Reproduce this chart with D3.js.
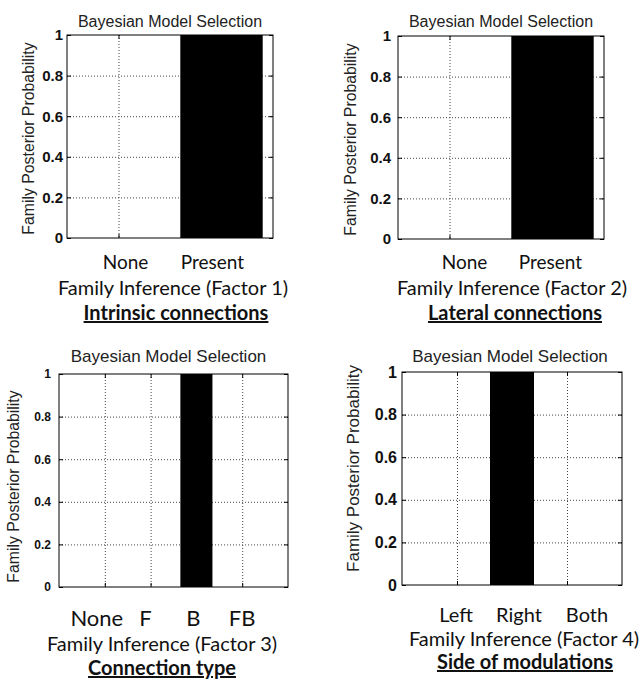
<!DOCTYPE html>
<html>
<head>
<meta charset="utf-8">
<script src="https://cdn.jsdelivr.net/npm/d3@7"></script>
<style>
  body { margin: 0; background: #fff; }
  svg { display: block; }
</style>
</head>
<body>
<div id="chart"></div>
<script>
// data
const yTicks = [0, 0.2, 0.4, 0.6, 0.8, 1];
const yTickLabels = ["0", "0.2", "0.4", "0.6", "0.8", "1"];
const plotTitle = "Bayesian Model Selection";
const yLabel = "Family Posterior Probability";

const factor1Categories = ["None", "Present"];
const factor1Values = [0, 1];
const factor2Categories = ["None", "Present"];
const factor2Values = [0, 1];
const factor3Categories = ["None", "F", "B", "FB"];
const factor3Values = [0, 0, 1, 0];
const factor4Categories = ["Left", "Right", "Both"];
const factor4Values = [0, 1, 0];

const factorTitles = ["Family Inference (Factor 1)", "Family Inference (Factor 2)",
  "Family Inference (Factor 3)", "Family Inference (Factor 4)"];
const factorNames = ["Intrinsic connections", "Lateral connections",
  "Connection type", "Side of modulations"];

// layout of the four panels (pixels)
const panels = [
  { cats: factor1Categories, vals: factor1Values, box: [67, 35, 273, 238], xDom: [0.5, 2.5], barW: 0.8,
    tickFont: 15, tickPad: 4, titleFont: 16, titleY: 27, titleDx: 0, ylabX: 28, ylabDy: 2, ylabFont: 15.8,
    catFont: 19, catY: 269, catNudge: [7, -9], infoX: 173, infoY: 295, nameX: 176, nameY: 320 },
  { cats: factor2Categories, vals: factor2Values, box: [398, 36, 604, 239], xDom: [0.5, 2.5], barW: 0.8,
    tickFont: 15, tickPad: 7, titleFont: 16, titleY: 27, titleDx: 0, ylabX: 350, ylabDy: 2, ylabFont: 15.8,
    catFont: 19, catY: 269, catNudge: [15, -2], infoX: 512, infoY: 295, nameX: 515, nameY: 320 },
  { cats: factor3Categories, vals: factor3Values, box: [59, 374, 288, 587], xDom: [0, 5], barW: 0.7,
    tickFont: 12, tickPad: 8, titleFont: 17, titleY: 362, titleDx: -5, ylabX: 13, ylabDy: 6, ylabFont: 15.8,
    catFont: 22, catY: 626, catNudge: [-8, -5, -3, 0], infoX: 162, infoY: 651, nameX: 162, nameY: 675 },
  { cats: factor4Categories, vals: factor4Values, box: [402, 372, 622, 585], xDom: [0, 4], barW: 0.8,
    tickFont: 16, tickPad: 5, titleFont: 17, titleY: 362, titleDx: -2, ylabX: 353, ylabDy: -10, ylabFont: 17,
    catFont: 20, catY: 622, catNudge: [-1, 7, 20], infoX: 524, infoY: 646, nameX: 525, nameY: 669 }
];

const svg = d3.select("#chart").append("svg")
  .attr("width", 641)
  .attr("height", 680);
svg.append("rect").attr("width", 641).attr("height", 680).attr("fill", "#fff");

const sansFont = "'Liberation Sans', Arial, sans-serif";
const textFont = "Lato, 'Open Sans', sans-serif";

panels.forEach((p, idx) => {
  const [x0, y0, x1, y1] = p.box;
  const w = x1 - x0, h = y1 - y0;
  const g = svg.append("g").attr("transform", "translate(" + x0 + "," + y0 + ")");

  const x = d3.scaleLinear().domain(p.xDom).range([0, w]);
  const y = d3.scaleLinear().domain([0, 1]).range([h, 0]);
  const catPos = p.cats.map((c, i) => i + 1);

  // dotted grid
  g.append("g")
    .call(d3.axisLeft(y).tickValues(yTicks.slice(1, -1)).tickSize(-w).tickFormat(""))
    .call(a => a.select(".domain").remove())
    .selectAll("line")
    .attr("stroke", "#444")
    .attr("stroke-dasharray", "1,2");
  g.append("g")
    .call(d3.axisBottom(x).tickValues(catPos).tickSize(h).tickFormat(""))
    .call(a => a.select(".domain").remove())
    .selectAll("line")
    .attr("stroke", "#444")
    .attr("stroke-dasharray", "1,2");

  // bars
  g.selectAll("rect.bar")
    .data(p.vals)
    .enter().append("rect")
    .attr("class", "bar")
    .attr("x", (d, i) => x(catPos[i] - p.barW / 2))
    .attr("width", x(p.barW) - x(0))
    .attr("y", d => y(d))
    .attr("height", d => h - y(d))
    .attr("fill", "#000");

  // inward ticks and y labels
  g.append("g")
    .call(d3.axisLeft(y).tickValues(yTicks).tickSize(-4).tickPadding(p.tickPad)
      .tickFormat((d, i) => yTickLabels[i]))
    .call(a => a.select(".domain").remove())
    .call(a => a.selectAll("line").attr("stroke", "#000"))
    .call(a => a.selectAll("text")
      .attr("font-family", sansFont)
      .attr("font-weight", "bold")
      .attr("font-size", p.tickFont)
      .attr("fill", "#111"));
  g.append("g")
    .attr("transform", "translate(" + w + ",0)")
    .call(d3.axisRight(y).tickValues(yTicks).tickSize(-4).tickFormat(""))
    .call(a => a.select(".domain").remove())
    .selectAll("line").attr("stroke", "#000");
  g.append("g")
    .attr("transform", "translate(0," + h + ")")
    .call(d3.axisBottom(x).tickValues(catPos).tickSize(-4).tickFormat(""))
    .call(a => a.select(".domain").remove())
    .selectAll("line").attr("stroke", "#000");
  g.append("g")
    .call(d3.axisTop(x).tickValues(catPos).tickSize(-4).tickFormat(""))
    .call(a => a.select(".domain").remove())
    .selectAll("line").attr("stroke", "#000");

  // box
  g.append("rect")
    .attr("width", w).attr("height", h)
    .attr("fill", "none")
    .attr("stroke", "#000")
    .attr("stroke-width", 1);

  // title
  svg.append("text")
    .attr("x", x0 + w / 2 + p.titleDx)
    .attr("y", p.titleY)
    .attr("text-anchor", "middle")
    .attr("font-family", sansFont)
    .attr("font-size", p.titleFont)
    .attr("fill", "#222")
    .text(plotTitle);

  // y label
  svg.append("text")
    .attr("transform", "translate(" + p.ylabX + "," + (y0 + h / 2 + p.ylabDy) + ") rotate(-90)")
    .attr("text-anchor", "middle")
    .attr("dominant-baseline", "central")
    .attr("font-family", sansFont)
    .attr("font-size", p.ylabFont)
    .attr("fill", "#222")
    .text(yLabel);

  // category names (typed under the axis)
  svg.selectAll(null)
    .data(p.cats)
    .enter().append("text")
    .attr("x", (d, i) => x0 + x(catPos[i]) + p.catNudge[i])
    .attr("y", p.catY)
    .attr("text-anchor", "middle")
    .attr("font-family", textFont)
    .attr("font-size", p.catFont)
    .attr("fill", "#111")
    .text(d => d);

  svg.append("text")
    .attr("x", p.infoX)
    .attr("y", p.infoY)
    .attr("text-anchor", "middle")
    .attr("font-family", textFont)
    .attr("font-size", 20)
    .attr("fill", "#111")
    .text(factorTitles[idx]);

  svg.append("text")
    .attr("x", p.nameX)
    .attr("y", p.nameY)
    .attr("text-anchor", "middle")
    .attr("font-family", textFont)
    .attr("font-weight", "bold")
    .attr("font-size", 20)
    .attr("text-decoration", "underline")
    .attr("fill", "#111")
    .text(factorNames[idx]);
});
</script>
</body>
</html>
